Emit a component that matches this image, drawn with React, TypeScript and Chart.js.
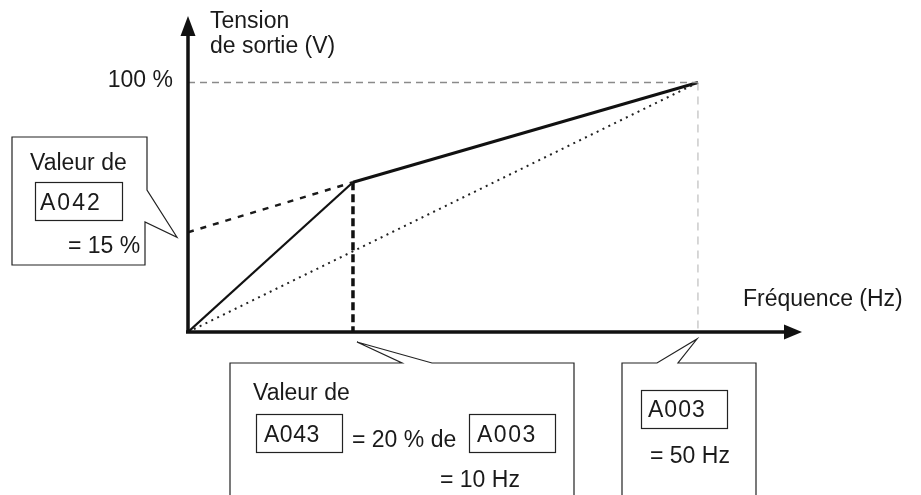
import React, { useEffect, useRef } from 'react';
import { Chart, registerables } from 'chart.js';
Chart.register(...registerables);

// Diagram positions (drawing is not to scale): x = position along frequency axis
// as % of the base-frequency point, y = output voltage in %.
const solidLowX = [0, 32.35];
const solidLowY = [0, 60];
const solidHighX = [32.35, 100];
const solidHighY = [60, 100];
const boostX = [0, 32.35];
const boostY = [40, 60];
const linearX = [0, 100];
const linearY = [0, 100];
const kneeDropX = [32.35, 32.35];
const kneeDropY = [60, 0];
const refHX = [0, 100];
const refHY = [100, 100];
const refVX = [100, 100];
const refVY = [100, 0];

const yTickLabels = ['100 %'];
const yAxisTitle = ['Tension', 'de sortie (V)'];
const xAxisTitle = 'Fréquence (Hz)';
const callout1 = ['Valeur de', 'A042', '= 15 %'];
const callout2 = ['Valeur de', 'A043', '= 20 % de', 'A003', '= 10 Hz'];
const callout3 = ['A003', '= 50 Hz'];

const pts = (xs: number[], ys: number[]) => xs.map((x, i) => ({ x, y: ys[i] }));

const FONT = '23px "Liberation Sans", Arial, sans-serif';

const overlay = {
  id: 'overlay',
  afterDatasetsDraw(chart: any) {
    const ctx: CanvasRenderingContext2D = chart.ctx;
    const xs = chart.scales.x;
    const ys = chart.scales.y;
    const ox = xs.getPixelForValue(0);
    const oy = ys.getPixelForValue(0);
    const ca = chart.chartArea;
    ctx.save();
    // axes
    ctx.strokeStyle = '#111';
    ctx.fillStyle = '#111';
    ctx.lineWidth = 3.5;
    ctx.setLineDash([]);
    ctx.beginPath();
    ctx.moveTo(ox, oy + 1.5);
    ctx.lineTo(ox, ca.top + 16);
    ctx.moveTo(ox - 2, oy);
    ctx.lineTo(ca.right - 12, oy);
    ctx.stroke();
    ctx.beginPath();
    ctx.moveTo(ox, ca.top);
    ctx.lineTo(ox - 7.5, ca.top + 20);
    ctx.lineTo(ox + 7.5, ca.top + 20);
    ctx.closePath();
    ctx.fill();
    ctx.beginPath();
    ctx.moveTo(ca.right, oy);
    ctx.lineTo(ca.right - 18, oy - 7.5);
    ctx.lineTo(ca.right - 18, oy + 7.5);
    ctx.closePath();
    ctx.fill();

    ctx.font = FONT;
    ctx.textBaseline = 'alphabetic';
    ctx.fillStyle = '#1a1a1a';
    ctx.textAlign = 'left';
    ctx.fillText(yAxisTitle[0], ox + 22, 28);
    ctx.fillText(yAxisTitle[1], ox + 22, 53);
    ctx.fillText(xAxisTitle, 743, 306);
    ctx.textAlign = 'right';
    ctx.fillText(yTickLabels[0], ox - 15, ys.getPixelForValue(100) + 5);
    ctx.textAlign = 'left';

    const poly = (p: number[][]) => {
      ctx.beginPath();
      ctx.moveTo(p[0][0], p[0][1]);
      for (let i = 1; i < p.length; i++) ctx.lineTo(p[i][0], p[i][1]);
      ctx.closePath();
      ctx.fillStyle = '#fff';
      ctx.fill();
      ctx.strokeStyle = '#222';
      ctx.lineWidth = 1.2;
      ctx.stroke();
      ctx.fillStyle = '#1a1a1a';
    };
    const box = (x: number, y: number, w: number, h: number) => {
      ctx.strokeStyle = '#222';
      ctx.lineWidth = 1.2;
      ctx.strokeRect(x + 0.5, y + 0.5, w, h);
    };

    // callout 1 (A042)
    const t1x = ox - 11;
    const t1y = ys.getPixelForValue(40) + 5;
    poly([[12, 137], [147, 137], [147, 190], [t1x, t1y], [145, 222], [145, 265], [12, 265]]);
    ctx.fillText(callout1[0], 30, 170);
    box(35, 182, 87, 38);
    ctx.letterSpacing = '2px';
    ctx.fillText(callout1[1], 40, 210);
    ctx.letterSpacing = '0px';
    ctx.fillText(callout1[2], 68, 253);

    // callout 2 (A043)
    const t2x = xs.getPixelForValue(kneeDropX[0]) + 4;
    const t2y = oy + 10;
    poly([[230, 363], [402, 363], [t2x, t2y], [432, 363], [574, 363], [574, 520], [230, 520]]);
    ctx.fillText(callout2[0], 253, 400);
    box(256, 414, 86, 38);
    ctx.letterSpacing = '0.5px';
    ctx.fillText(callout2[1], 264, 442);
    ctx.letterSpacing = '0px';
    ctx.fillText(callout2[2], 352, 447);
    box(469, 414, 86, 38);
    ctx.letterSpacing = '1.5px';
    ctx.fillText(callout2[3], 477, 442);
    ctx.letterSpacing = '0px';
    ctx.fillText(callout2[4], 440, 487);

    // callout 3 (A003)
    const t3x = xs.getPixelForValue(100) - 1;
    const t3y = oy + 7;
    poly([[622, 363], [657, 363], [t3x, t3y], [678, 363], [756, 363], [756, 520], [622, 520]]);
    box(641, 390, 86, 38);
    ctx.letterSpacing = '1px';
    ctx.fillText(callout3[0], 648, 417);
    ctx.letterSpacing = '0px';
    ctx.fillText(callout3[1], 650, 463);
    ctx.restore();
  },
};

export default function App() {
  const ref = useRef<HTMLCanvasElement>(null);
  useEffect(() => {
    document.body.style.margin = '0';
    const common = { pointRadius: 0, fill: false, tension: 0 };
    const chart = new Chart(ref.current!, {
      type: 'line',
      data: {
        datasets: [
          { ...common, data: pts(refHX, refHY), borderColor: '#8a8a8a', borderWidth: 1.5, borderDash: [7, 5] },
          { ...common, data: pts(refVX, refVY), borderColor: '#b0b0b0', borderWidth: 1, borderDash: [8, 6] },
          { ...common, data: pts(linearX, linearY), borderColor: '#222', borderWidth: 2, borderDash: [2, 4.5] },
          { ...common, data: pts(boostX, boostY), borderColor: '#1a1a1a', borderWidth: 2.5, borderDash: [6, 7] },
          { ...common, data: pts(kneeDropX, kneeDropY), borderColor: '#111', borderWidth: 3.5, borderDash: [8, 4] },
          { ...common, data: pts(solidLowX, solidLowY), borderColor: '#111', borderWidth: 2.2 },
          { ...common, data: pts(solidHighX, solidHighY), borderColor: '#111', borderWidth: 3 },
        ],
      },
      options: {
        animation: false,
        responsive: false,
        devicePixelRatio: 1,
        layout: { padding: { left: 188, right: 119, top: 16, bottom: 163 } },
        scales: {
          x: { type: 'linear', min: 0, max: 120.4, display: false },
          y: { type: 'linear', min: 0, max: 126.65, display: false },
        },
        plugins: { legend: { display: false }, tooltip: { enabled: false } },
      },
      plugins: [overlay],
    });
    return () => chart.destroy();
  }, []);
  return (
    <div style={{ width: 921, height: 495, background: '#fff' }}>
      <canvas ref={ref} width={921} height={495} />
    </div>
  );
}
